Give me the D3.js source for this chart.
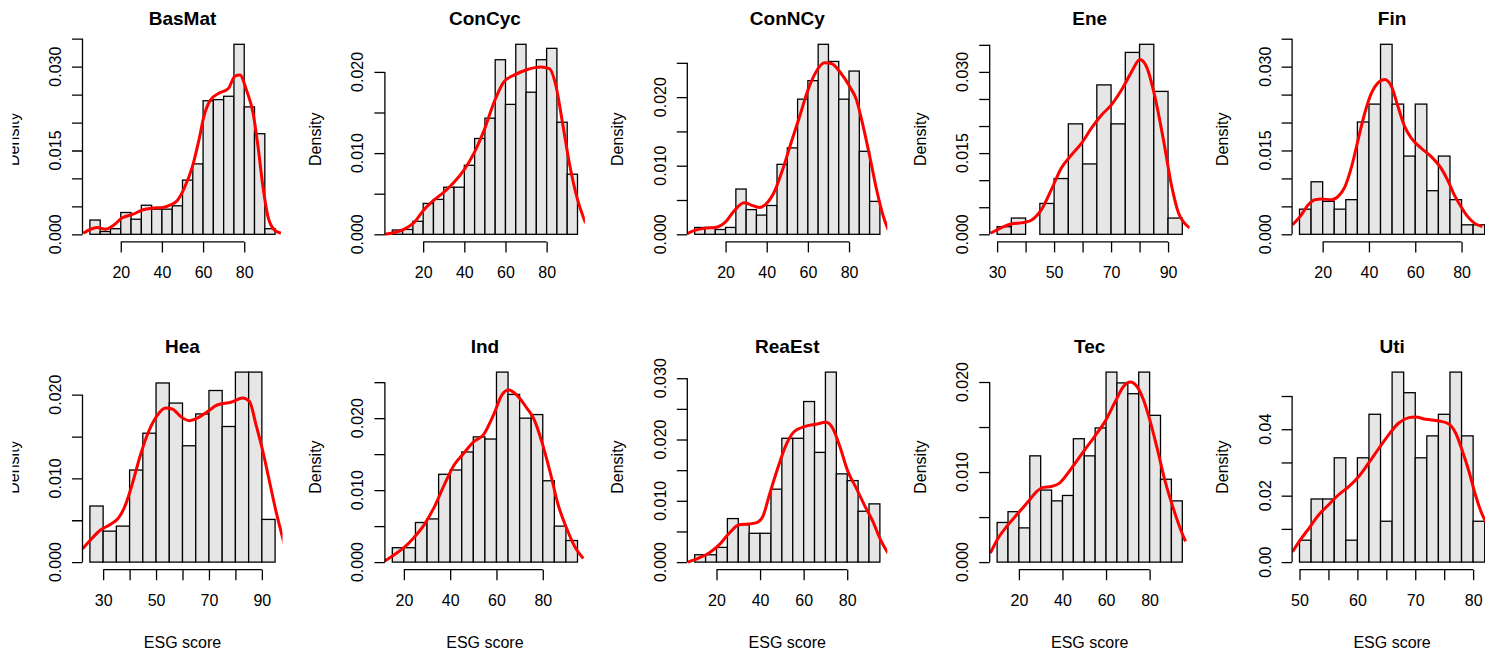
<!DOCTYPE html>
<html>
<head>
<meta charset="utf-8">
<script src="https://cdn.jsdelivr.net/npm/d3@7"></script>
<style>
  body { margin: 0; background: #fff; }
  svg { display: block; }
</style>
</head>
<body>
<script>
// sectors, in panel order (2 rows x 5 cols)
const sectors = ["BasMat", "ConCyc", "ConNCy", "Ene", "Fin", "Hea", "Ind", "ReaEst", "Tec", "Uti"];

// histogram breaks: first break and bin width for each sector
const binStart = [5, 5, 5, 30, 10, 25, 15, 10, 10, 50];
const binWidth = [5, 5, 5, 5, 5, 5, 5, 5, 5, 2];

// bar densities
const basMatBars = [0.00255, 0.0005, 0.001, 0.0039, 0.0027, 0.0052, 0.0045, 0.0045, 0.0051, 0.0097, 0.0126, 0.0239, 0.0241, 0.0247, 0.034, 0.0228, 0.018, 0.001];
const conCycBars = [0.00053, 0.0006, 0.0016, 0.0038, 0.0043, 0.0058, 0.0058, 0.0085, 0.0118, 0.0143, 0.0215, 0.016, 0.0234, 0.0175, 0.0215, 0.0229, 0.0138, 0.0074];
const conNCyBars = [0.001, 0.001, 0.0007, 0.001, 0.0066, 0.0036, 0.0028, 0.0042, 0.0102, 0.0126, 0.0197, 0.0224, 0.0277, 0.0252, 0.0197, 0.0238, 0.0121, 0.0048];
const eneBars = [0.0014, 0.003, 0, 0.0057, 0.0103, 0.0204, 0.013, 0.0276, 0.0204, 0.0336, 0.0351, 0.0264, 0.003];
const finBars = [0.0045, 0.0094, 0.0059, 0.0045, 0.0062, 0.0201, 0.0233, 0.034, 0.0233, 0.014, 0.0233, 0.0078, 0.014, 0.0062, 0.0017, 0.0017];
const heaBars = [0.0067, 0.0037, 0.0043, 0.011, 0.0154, 0.0214, 0.019, 0.0139, 0.0177, 0.0205, 0.0162, 0.0227, 0.0227, 0.0051];
const indBars = [0.002, 0.002, 0.0055, 0.006, 0.0122, 0.0128, 0.0153, 0.0174, 0.0171, 0.0264, 0.0233, 0.02, 0.0205, 0.0113, 0.005, 0.003];
const reaEstBars = [0.0012, 0.0012, 0.0024, 0.0071, 0.0061, 0.0047, 0.0047, 0.0119, 0.0202, 0.0202, 0.0262, 0.0179, 0.031, 0.0144, 0.0133, 0.0083, 0.0095];
const tecBars = [0.0044, 0.0056, 0.0038, 0.0118, 0.008, 0.0068, 0.0074, 0.0137, 0.0118, 0.0149, 0.0211, 0.0199, 0.0187, 0.0211, 0.0163, 0.0092, 0.0068];
const utiBars = [0.0066, 0.019, 0.019, 0.0314, 0.0066, 0.0314, 0.0445, 0.0123, 0.0572, 0.051, 0.0314, 0.038, 0.0445, 0.0572, 0.038, 0.0123];

// kernel density curves [score, density]
const basMatCurve = [[1.8,0.0002],[5.3,0.0009],[8.5,0.0012],[12.5,0.0009],[16.5,0.0016],[20.5,0.0029],[26,0.0036],[30.8,0.0044],[35.6,0.0047],[40.4,0.0048],[44.4,0.0053],[47.6,0.0061],[50.8,0.0082],[54.8,0.0121],[58,0.0169],[60.4,0.0211],[63.5,0.024],[67.5,0.0252],[72.3,0.0261],[75.5,0.0283],[77.9,0.0285],[81.1,0.0258],[84.3,0.0217],[86.7,0.0157],[89.1,0.0085],[91.5,0.0032],[94.6,0.0008],[97.8,0.0002]];
const conCycCurve = [[1.1,0],[5.7,0.0002],[10.6,0.0006],[15.4,0.0014],[20.3,0.003],[25.2,0.0042],[30.1,0.0052],[35,0.0064],[39.8,0.0079],[44.7,0.01],[49.6,0.0128],[54.5,0.0163],[59.3,0.0188],[64.2,0.0196],[70.7,0.0203],[77.2,0.0206],[81.3,0.0204],[84.6,0.0182],[87.8,0.0136],[91.1,0.0087],[95.1,0.0042],[98.9,0.0014]];
const conNCyCurve = [[1.4,0.0001],[5.3,0.0006],[10.2,0.0009],[15.1,0.001],[20,0.0018],[24.1,0.0034],[29,0.0046],[32.2,0.0043],[36.3,0.0039],[39.6,0.0044],[43.7,0.0062],[47.7,0.0094],[51.8,0.0133],[55.9,0.0171],[60,0.021],[64,0.0237],[68.1,0.025],[71.4,0.0249],[75.5,0.0237],[80.4,0.0215],[83.6,0.0196],[86.9,0.0157],[90.1,0.0113],[93.4,0.0065],[96.7,0.0026],[99.1,0.0006]];
const eneCurve = [[27.7,0.0002],[31.4,0.0012],[34.9,0.0019],[39.6,0.0022],[42,0.0026],[45.5,0.0045],[49,0.0082],[52.5,0.0122],[56,0.0146],[59.6,0.0168],[63.1,0.0196],[66.6,0.022],[70.1,0.0239],[73.6,0.0266],[77.2,0.03],[80.1,0.0323],[82.5,0.0309],[85.4,0.0254],[88.4,0.0174],[91.3,0.0088],[93.7,0.0039],[95.4,0.0023],[97.6,0.0012]];
const finCurve = [[7,0.0017],[10.3,0.0032],[13.8,0.0053],[16.7,0.0062],[19.6,0.0063],[23.9,0.0062],[26.7,0.0068],[29.6,0.0085],[32.5,0.0121],[35.3,0.0169],[38.2,0.0217],[41.1,0.0253],[43.9,0.0271],[46.8,0.0277],[49.7,0.0265],[52.5,0.0229],[55.4,0.0193],[58.3,0.0172],[62.6,0.0154],[66.9,0.0139],[71.2,0.0118],[74,0.0097],[76.9,0.007],[79.7,0.005],[82.6,0.0032],[85.5,0.002],[89,0.0014]];
const heaCurve = [[22.3,0.0016],[25.1,0.0026],[28.9,0.0038],[32.7,0.0045],[35.9,0.0053],[38.4,0.0068],[40.9,0.0092],[44.1,0.0128],[47.2,0.0156],[50.4,0.0175],[53.6,0.0184],[56.1,0.0183],[59.3,0.0174],[62.5,0.0169],[65.6,0.0172],[69.5,0.018],[73.3,0.0188],[78.3,0.0191],[82.8,0.0196],[85.3,0.0192],[87.8,0.0164],[90.4,0.0132],[92.9,0.0096],[95.4,0.006],[98.6,0.002]];
const indCurve = [[11.4,0.0001],[15.7,0.001],[20,0.002],[24.3,0.0034],[28.6,0.0051],[32.9,0.0075],[37.4,0.0107],[41.7,0.0135],[45.8,0.0151],[50.1,0.0167],[54.4,0.0177],[58.8,0.0205],[62.3,0.0232],[65.2,0.0239],[68.8,0.0232],[73.1,0.0214],[76,0.02],[79.6,0.0167],[83.1,0.0126],[86.7,0.0079],[90.3,0.0047],[93.9,0.0021],[97.5,0.0005]];
const reaEstCurve = [[6.8,0],[12,0.0007],[16.6,0.0015],[21.2,0.0028],[25.8,0.0047],[30.4,0.0061],[34.3,0.0062],[38.1,0.0064],[41.2,0.0074],[44.3,0.011],[48.1,0.0153],[51.9,0.0191],[55.7,0.0213],[60.3,0.0221],[65.7,0.0225],[70.3,0.0228],[73.4,0.0218],[76.4,0.0191],[80.3,0.0148],[84.1,0.0121],[87.9,0.0093],[91.8,0.0066],[95.6,0.0034],[98.7,0.0015]];
const tecCurve = [[6.9,0.001],[10.3,0.0026],[14.9,0.0041],[19.5,0.0054],[24.2,0.0067],[28,0.0078],[31.1,0.0083],[34.9,0.0084],[38.8,0.0088],[42.6,0.0099],[46.5,0.0112],[50.3,0.0125],[54.9,0.014],[59.5,0.0156],[64.2,0.0178],[68,0.0195],[71.1,0.02],[74.2,0.0195],[77.2,0.018],[80.3,0.0156],[83.4,0.0127],[87.2,0.0089],[91.1,0.0058],[94.9,0.0032],[96.5,0.0023]];
const utiCurve = [[48.8,0.0031],[50.1,0.0066],[51.6,0.0101],[53.3,0.0142],[55,0.0172],[56.7,0.0202],[58.5,0.0227],[60.2,0.0257],[61.9,0.0297],[63.7,0.0342],[65.4,0.0383],[67.1,0.0418],[68.9,0.0435],[70,0.0437],[71.8,0.043],[74.1,0.0425],[75.8,0.0416],[77,0.0388],[78.1,0.0337],[79.3,0.0272],[80.4,0.0202],[81.6,0.0142],[82.2,0.0121]];

// axis ticks, and which of them carry a label
const xTicks = [[20,40,60,80],[20,40,60,80],[20,40,60,80],[30,40,50,60,70,80,90],[20,40,60,80],
                [30,40,50,60,70,80,90],[20,40,60,80],[20,40,60,80],[20,40,60,80],[50,55,60,65,70,75,80]];
const xLabels = [[20,40,60,80],[20,40,60,80],[20,40,60,80],[30,50,70,90],[20,40,60,80],
                 [30,50,70,90],[20,40,60,80],[20,40,60,80],[20,40,60,80],[50,60,70,80]];
const yTicks = [[0,0.005,0.01,0.015,0.02,0.025,0.03,0.035],[0,0.005,0.01,0.015,0.02],[0,0.005,0.01,0.015,0.02,0.025],
                [0,0.005,0.01,0.015,0.02,0.025,0.03,0.035],[0,0.005,0.01,0.015,0.02,0.025,0.03,0.035],
                [0,0.005,0.01,0.015,0.02],[0,0.005,0.01,0.015,0.02,0.025],[0,0.005,0.01,0.015,0.02,0.025,0.03],
                [0,0.005,0.01,0.015,0.02],[0,0.01,0.02,0.03,0.04,0.05]];
const yLabels = [["0.000","0.015","0.030"],["0.000","0.010","0.020"],["0.000","0.010","0.020"],["0.000","0.015","0.030"],["0.000","0.015","0.030"],
                 ["0.000","0.010","0.020"],["0.000","0.010","0.020"],["0.000","0.010","0.020","0.030"],["0.000","0.010","0.020"],["0.00","0.02","0.04"]];

const allBars = [basMatBars, conCycBars, conNCyBars, eneBars, finBars, heaBars, indBars, reaEstBars, tecBars, utiBars];
const allCurves = [basMatCurve, conCycCurve, conNCyCurve, eneCurve, finCurve, heaCurve, indCurve, reaEstCurve, tecCurve, utiCurve];

const width = 1485, height = 652;
const plotW = 200, barSpan = 190;
const font = "'Liberation Sans', Arial, Helvetica, sans-serif";

const svg = d3.select("body").append("svg")
    .attr("width", width)
    .attr("height", height)
    .style("font-family", font);

svg.append("rect").attr("width", width).attr("height", height).attr("fill", "#fff");

const defs = svg.append("defs");
defs.append("clipPath").attr("id", "page-clip")
    .append("rect").attr("x", 12.5).attr("y", 0).attr("width", width - 12.5).attr("height", height);

const page = svg.append("g").attr("clip-path", "url(#page-clip)");

sectors.forEach((name, i) => drawPanel(page, i));

function drawPanel(root, i) {
    const col = i % 5, row = Math.floor(i / 5);
    const left = 82.5 + 302.4 * col;
    const zeroY = 234.3 + 327.8 * row;
    const bottom = zeroY + 7.6, top = zeroY - 197.6;
    const bars = allBars[i];
    const lo = binStart[i], bw = binWidth[i];
    const hi = lo + bars.length * bw;
    const pad = 0.04 * (hi - lo);

    const x = d3.scaleLinear().domain([lo - pad, hi + pad]).range([left, left + plotW]);
    const y = d3.scaleLinear().domain([0, d3.max(bars)]).range([zeroY, zeroY - barSpan]);

    const g = root.append("g");

    defs.append("clipPath").attr("id", `plot-clip-${i}`)
        .append("rect")
        .attr("x", left).attr("y", top)
        .attr("width", plotW).attr("height", bottom - top);

    // bars
    g.append("g").selectAll("rect")
        .data(bars)
        .enter()
        .append("rect")
        .attr("x", (d, k) => x(lo + k * bw))
        .attr("y", d => y(d))
        .attr("width", (d, k) => x(lo + (k + 1) * bw) - x(lo + k * bw))
        .attr("height", d => y(0) - y(d))
        .attr("fill", "#e6e6e6")
        .attr("stroke", "#000")
        .attr("stroke-width", 1.3);

    // density curve
    const line = d3.line()
        .x(d => x(d[0]))
        .y(d => y(d[1]))
        .curve(d3.curveMonotoneX);

    g.append("path")
        .datum(allCurves[i])
        .attr("clip-path", `url(#plot-clip-${i})`)
        .attr("d", line)
        .attr("fill", "none")
        .attr("stroke", "#ff0000")
        .attr("stroke-width", 3)
        .attr("stroke-linejoin", "round");

    // x axis
    const xt = xTicks[i];
    const xAxis = g.append("g")
        .attr("transform", `translate(0,${bottom})`)
        .call(d3.axisBottom(x).tickValues(xt).tickSize(10.5).tickPadding(14.4)
            .tickFormat(v => xLabels[i].includes(v) ? String(v) : ""));
    xAxis.select(".domain").remove();
    xAxis.selectAll("line").attr("stroke", "#000").attr("stroke-width", 1.3);
    xAxis.selectAll("text").attr("font-size", 16).attr("fill", "#000").style("font-family", font);
    xAxis.append("line")
        .attr("x1", x(xt[0])).attr("x2", x(xt[xt.length - 1]))
        .attr("stroke", "#000").attr("stroke-width", 1.3);

    // y axis
    const yt = yTicks[i];
    const yAxis = g.append("g")
        .attr("transform", `translate(${left},0)`)
        .call(d3.axisLeft(y).tickValues(yt).tickSize(10.5).tickFormat(""));
    yAxis.select(".domain").remove();
    yAxis.selectAll("line").attr("stroke", "#000").attr("stroke-width", 1.3);
    yAxis.append("line")
        .attr("y1", y(yt[0])).attr("y2", y(yt[yt.length - 1]))
        .attr("stroke", "#000").attr("stroke-width", 1.3);

    g.append("g").selectAll("text")
        .data(yLabels[i])
        .enter()
        .append("text")
        .attr("transform", d => `translate(${left - 21.5},${y(+d)}) rotate(-90)`)
        .attr("text-anchor", "middle")
        .attr("font-size", 16)
        .text(d => d);

    // titles
    g.append("text")
        .attr("x", left + plotW / 2)
        .attr("y", 24.7 + 327.8 * row)
        .attr("text-anchor", "middle")
        .attr("font-size", 19)
        .attr("font-weight", "bold")
        .text(name_(i));

    g.append("text")
        .attr("transform", `translate(${left - 64},${(top + bottom) / 2}) rotate(-90)`)
        .attr("text-anchor", "middle")
        .attr("font-size", 16)
        .text("Density");

    if (row === 1) {
        g.append("text")
            .attr("x", left + plotW / 2)
            .attr("y", bottom + 78.5)
            .attr("text-anchor", "middle")
            .attr("font-size", 16)
            .text("ESG score");
    }
}

function name_(i) {
    return sectors[i];
}
</script>
</body>
</html>
